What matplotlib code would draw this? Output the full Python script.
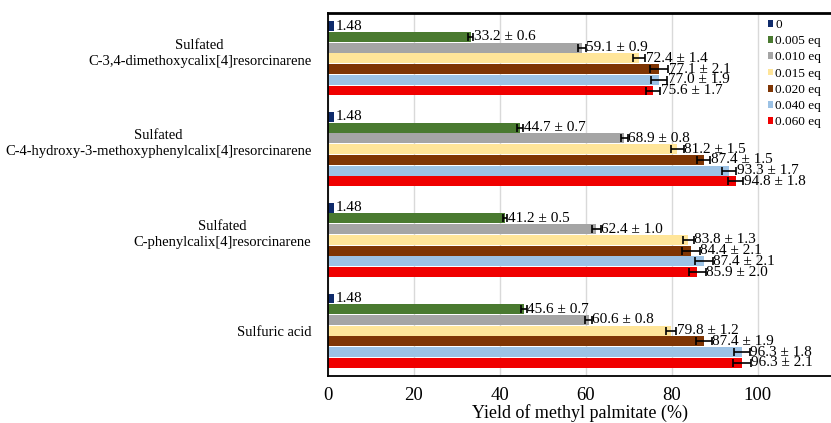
import matplotlib
matplotlib.use('Agg')
import matplotlib.pyplot as plt
from matplotlib.patches import Patch
from matplotlib.transforms import ScaledTranslation
import numpy as np

plt.rcParams['font.family'] = ['Liberation Serif', 'DejaVu Serif']

# Catalysts, top to bottom
catalysts = [
    'Sulfated\nC-3,4-dimethoxycalix[4]resorcinarene',
    'Sulfated\nC-4-hydroxy-3-methoxyphenylcalix[4]resorcinarene',
    'Sulfated\nC-phenylcalix[4]resorcinarene',
    'Sulfuric acid',
]
loadings = ['0', '0.005 eq', '0.010 eq', '0.015 eq', '0.020 eq', '0.040 eq', '0.060 eq']
colors = ['#0f2b6b', '#4a7a30', '#a5a5a5', '#ffe599', '#7f3504', '#9cc2e5', '#f00000']

# yield (%) per catalyst, one entry per loading
yields = [
    [1.48, 33.2, 59.1, 72.4, 77.1, 77.0, 75.6],
    [1.48, 44.7, 68.9, 81.2, 87.4, 93.3, 94.8],
    [1.48, 41.2, 62.4, 83.8, 84.4, 87.4, 85.9],
    [1.48, 45.6, 60.6, 79.8, 87.4, 96.3, 96.3],
]
errors = [
    [None, 0.6, 0.9, 1.4, 2.1, 1.9, 1.7],
    [None, 0.7, 0.8, 1.5, 1.5, 1.7, 1.8],
    [None, 0.5, 1.0, 1.3, 2.1, 2.1, 2.0],
    [None, 0.7, 0.8, 1.2, 1.9, 1.8, 2.1],
]

fig = plt.figure(figsize=(8.31, 4.23), dpi=100)
ax = fig.add_axes([328 / 831, 1 - 376 / 423, 1 - 328 / 831, (376 - 13) / 423])

n = len(loadings)
step = 0.118
centers = np.arange(len(catalysts))[::-1].astype(float)

for i, yc in enumerate(centers):
    for j in range(n):
        y = yc + (n / 2 - 0.5 - j) * step
        v = yields[i][j]
        e = errors[i][j]
        ax.barh(y, v, height=step * 0.93, color=colors[j], zorder=2)
        if e is None:
            ax.text(v + 0.2, y, f'{v:.2f}', va='center', ha='left', fontsize=11, zorder=4)
        else:
            ax.errorbar(v, y, xerr=e, fmt='none', ecolor='black', elinewidth=1.2,
                        capsize=3, capthick=1.2, zorder=3)
            ax.text(v + e + 0.1, y, f'{v:.1f} \u00b1 {e:.1f}', va='center', ha='left',
                    fontsize=11, zorder=4)

ax.set_xlim(0, 117)
ax.set_ylim(-0.5, len(catalysts) - 0.5)
ax.set_xticks([0, 20, 40, 60, 80, 100])
ax.tick_params(axis='x', length=0, labelsize=13.5, pad=8)
ax.set_yticks(centers)
ax.set_yticklabels(catalysts, fontsize=10.5, multialignment='center', linespacing=1.3)
ax.tick_params(axis='y', length=0, pad=12)

# two-line labels sit a bit above the group centre
for lab in ax.get_yticklabels():
    if '\n' in lab.get_text():
        lab.set_transform(lab.get_transform() + ScaledTranslation(0, 6 / 72, fig.dpi_scale_trans))

ax.grid(axis='x', color='#d9d9d9', linewidth=1, zorder=0)
ax.set_axisbelow(True)
ax.spines['right'].set_visible(False)
ax.spines['top'].set_linewidth(2)
ax.spines['left'].set_linewidth(1.3)
ax.spines['bottom'].set_linewidth(1.3)

ax.set_xlabel('Yield of methyl palmitate (%)', fontsize=13, labelpad=0)

handles = [Patch(facecolor=c, label=l) for c, l in zip(colors, loadings)]
ax.legend(handles=handles, loc='upper left', bbox_to_anchor=(768 / 831, 1 - 19 / 423),
          bbox_transform=fig.transFigure, frameon=False, fontsize=9.5,
          handlelength=0.4, handleheight=0.4, handletextpad=0.15,
          labelspacing=0.32, borderpad=0, borderaxespad=0)

fig.savefig('out.png', dpi=100)
